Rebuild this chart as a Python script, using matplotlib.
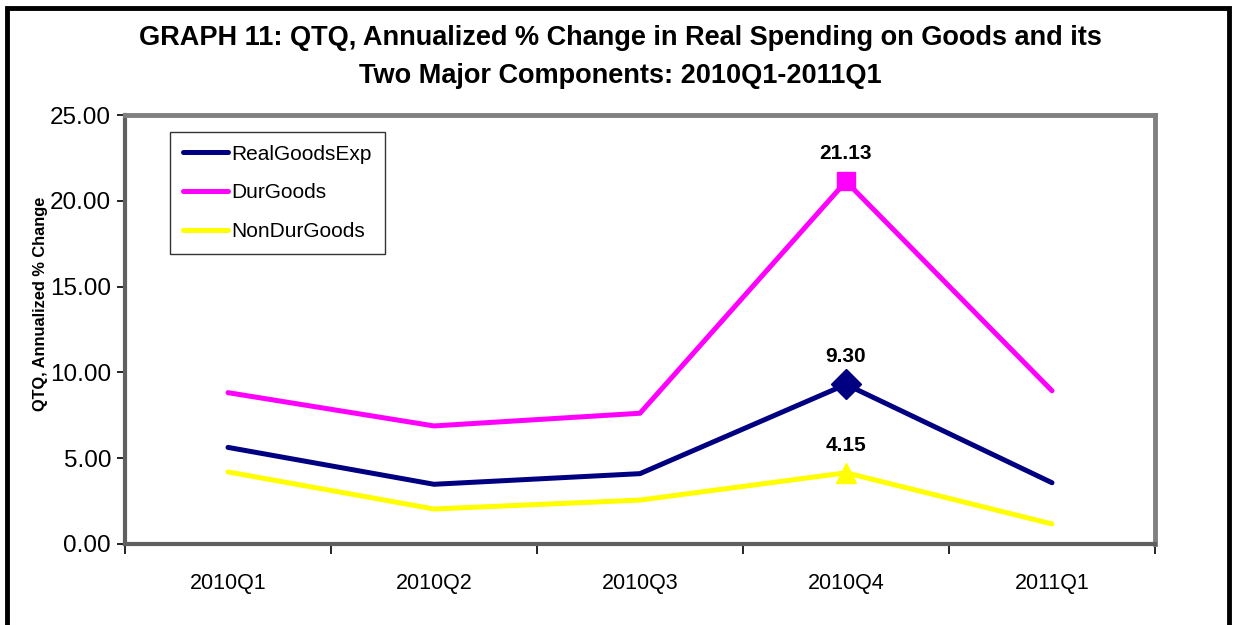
import matplotlib
matplotlib.use('Agg')
import matplotlib.pyplot as plt
from matplotlib.patches import Rectangle
from matplotlib.ticker import FormatStrFormatter, FixedLocator

quarters = ['2010Q1', '2010Q2', '2010Q3', '2010Q4', '2011Q1']
real_goods = [5.63, 3.48, 4.10, 9.30, 3.57]
dur_goods = [8.82, 6.88, 7.62, 21.13, 8.93]
nondur_goods = [4.20, 2.04, 2.56, 4.15, 1.17]
y_ticks = [0, 5, 10, 15, 20, 25]

plt.rcParams['font.family'] = ['Liberation Sans', 'DejaVu Sans']

fig = plt.figure(figsize=(12.33, 6.25), dpi=100)
ax = fig.add_axes([125 / 1233, 1 - 544 / 625, 1030 / 1233, 429 / 625])

x = list(range(len(quarters)))
series = [
    ('RealGoodsExp', real_goods, '#000080', 'D'),
    ('DurGoods', dur_goods, '#FF00FF', 's'),
    ('NonDurGoods', nondur_goods, '#FFFF00', '^'),
]
hl = 3  # 2010Q4 gets a marker and a label
for name, vals, col, mk in series:
    ax.plot(x, vals, color=col, lw=3.6, label=name, solid_capstyle='round')
    ax.plot(x[hl], vals[hl], marker=mk, color=col, ms=15 if mk != 's' else 13, ls='none')
    ax.annotate('%.2f' % vals[hl], (x[hl], vals[hl]), xytext=(0, 13),
                textcoords='offset points', ha='center', va='bottom',
                fontsize=15, fontweight='bold')

ax.set_xlim(-0.5, len(quarters) - 0.5)
ax.set_ylim(0, 25)
ax.set_yticks(y_ticks)
ax.yaxis.set_major_formatter(FormatStrFormatter('%0.2f'))
ax.set_xticks(x)
ax.set_xticklabels(quarters)
ax.xaxis.set_minor_locator(FixedLocator([i - 0.5 for i in range(len(quarters) + 1)]))
ax.tick_params(axis='x', which='major', length=0, labelsize=15.5, pad=21)
ax.tick_params(axis='x', which='minor', length=7, width=1.2, direction='out')
ax.tick_params(axis='y', labelsize=17.5, length=6, width=1.2, pad=4)

for s in ['top', 'right']:
    ax.spines[s].set_color('#808080')
    ax.spines[s].set_linewidth(3.5)
for s in ['left', 'bottom']:
    ax.spines[s].set_color('#606060')
    ax.spines[s].set_linewidth(3)

fig.text(41 / 1233, 1 - 304 / 625, 'QTQ, Annualized % Change', rotation=90,
         ha='center', va='center', fontsize=11.8, fontweight='bold')

leg = ax.legend(loc='upper left', bbox_to_anchor=(0.0437, 0.960), fontsize=15,
                frameon=True, fancybox=False, edgecolor='black', handlelength=2.16,
                handletextpad=0.2, labelspacing=0.95, borderpad=0.6, borderaxespad=0)
leg.get_frame().set_linewidth(1.0)

fig.text(0.503, 1 - 38 / 625, 'GRAPH 11: QTQ, Annualized % Change in Real Spending on Goods and its',
         ha='center', va='center', fontsize=19.5, fontweight='bold')
fig.text(0.503, 1 - 76 / 625, 'Two Major Components: 2010Q1-2011Q1',
         ha='center', va='center', fontsize=19.5, fontweight='bold')

fig.patches.append(Rectangle((7 / 1233, -0.05), 1222 / 1233, 1.05 - 8 / 625,
                             transform=fig.transFigure, fill=False,
                             edgecolor='black', lw=3.5, clip_on=False))

plt.savefig('out.png', dpi=100)
